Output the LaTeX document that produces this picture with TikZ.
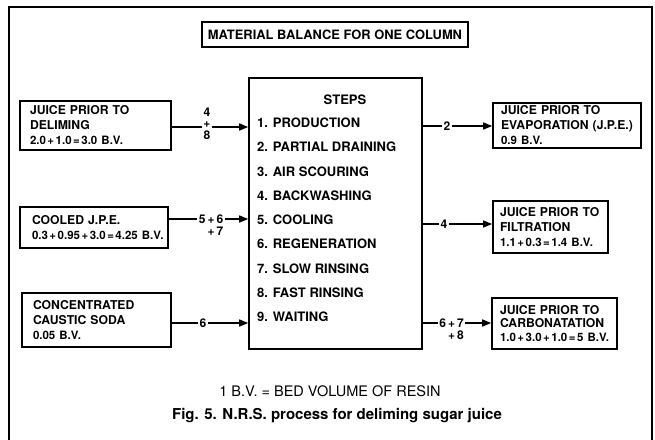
\documentclass[tikz,border=0pt]{standalone}
\usepackage{fontspec}
\setmainfont{TeX Gyre Heros}
\usetikzlibrary{arrows.meta}
\newcommand\nmfont{\fontsize{11.5}{15}\selectfont}
\newcommand\pk{\kern1.5pt}
\begin{document}
\begin{tikzpicture}[x=1pt,y=-1pt,
  box/.style={draw,line width=1.6pt,inner ysep=0pt,align=left,
    font=\bfseries\fontsize{12.2}{15}\selectfont},
  lab/.style={fill=white,inner sep=1.5pt,font=\bfseries\fontsize{12}{11.5}\selectfont},
  arr/.style={line width=1.5pt,-{Triangle[length=9pt,width=7pt]}},
  stp/.style={anchor=west,inner sep=0pt,font=\bfseries\fontsize{13}{15}\selectfont}
]
\useasboundingbox (0,0) rectangle (655,439);
% outer frame
\draw[line width=1.5pt] (9,445) -- (9,7) -- (652,7) -- (652,445);
% title
\node[draw,line width=1.6pt,minimum width=266pt,minimum height=25pt,inner sep=0pt,
  font=\bfseries\fontsize{12.9}{15}\selectfont] (title) at (335,34.5) {MATERIAL BALANCE FOR ONE COLUMN};
% main box
\node[draw,line width=1.6pt,minimum width=173pt,minimum height=271pt,inner sep=0pt] (main) at (335.5,213.5) {};
\node[stp,anchor=center] (stepshead) at (345,100) {STEPS};
\foreach \t [count=\k] in {1. PRODUCTION,2. PARTIAL DRAINING,3. AIR SCOURING,4. BACKWASHING,5. COOLING,6. REGENERATION,7. SLOW RINSING,8. FAST RINSING,9. WAITING}
  \node[stp] (s\k) at (257,{123+(\k-1)*24.25}) {\t};
% left boxes
\node[box,inner xsep=10pt,minimum width=151pt,minimum height=49pt,text width=131pt] (b1) at (95.5,125.5)
  {JUICE PRIOR TO\\DELIMING\\\mbox{\nmfont 2.0\pk+\pk1.0\pk=\pk3.0 B.V.}};
\node[box,inner xsep=12pt,minimum width=148pt,minimum height=41pt,text width=124pt] (b2) at (94,227.5)
  {COOLED J.P.E.\\\mbox{\nmfont 0.3\pk+\pk0.95\pk+\pk3.0\pk=\pk4.25 B.V.}};
\node[box,inner xsep=11pt,minimum width=149pt,minimum height=54pt,text width=127pt] (b3) at (96.5,320)
  {CONCENTRATED\\CAUSTIC SODA\\\mbox{\nmfont 0.05 B.V.}};
% right boxes
\node[box,inner xsep=8pt,minimum width=148pt,minimum height=45pt,text width=132pt] (b4) at (567,125.5)
  {JUICE PRIOR TO\\\mbox{EVAPORATION (J.P.E.)}\\\mbox{\nmfont 0.9 B.V.}};
\node[box,inner xsep=7pt,minimum width=115pt,minimum height=52pt,text width=101pt] (b5) at (550.5,227)
  {JUICE PRIOR TO\\FILTRATION\\\mbox{\nmfont 1.1\pk+\pk0.3\pk=\pk1.4 B.V.}};
\node[box,inner xsep=8pt,minimum width=125pt,minimum height=51pt,text width=109pt,
  font=\bfseries\fontsize{12.2}{13.5}\selectfont] (b6) at (554.5,323.5)
  {JUICE PRIOR TO\\CARBONATATION\\\mbox{\nmfont 1.0\pk+\pk3.0\pk+\pk1.0\pk=\pk5 B.V.}};
% connector levels
\coordinate (y1) at (0,127);
\coordinate (y2) at (0,219);
\coordinate (y3) at (0,323);
\coordinate (y4) at (0,126);
\coordinate (y5) at (0,224);
\coordinate (y6) at (0,323);
\draw[arr] (b1.east |- y1) -- (main.west |- y1);
\draw[arr] (b2.east |- y2) -- (main.west |- y2);
\draw[arr] (b3.east |- y3) -- (main.west |- y3);
\draw[arr] (main.east |- y4) -- (b4.west |- y4);
\draw[arr] (main.east |- y5) -- (b5.west |- y5);
\draw[arr] (main.east |- y6) -- (b6.west |- y6);
% connector labels
\node[lab,align=center] (l1) at (207,123.5) {4\\+\\8};
\node[lab,align=right,anchor=north east] (l2) at (225,213.2) {5\,+\,6\\+\,7};
\node[lab] (l3) at (203,323) {6};
\node[lab] (l4) at (447,126) {2};
\node[lab] (l5) at (444,224) {4};
\node[lab,align=right,anchor=north east] (l6) at (465.5,317.2) {6\,+\,7\\+\,8};
% footer
\node[font=\fontsize{14.5}{16}\selectfont] (bv) at (330,391) {1 B.V. = BED VOLUME OF RESIN};
\node[font=\bfseries\fontsize{15}{17}\selectfont] (cap) at (337,416) {Fig. 5. N.R.S. process for deliming sugar juice};
\end{tikzpicture}
\end{document}
